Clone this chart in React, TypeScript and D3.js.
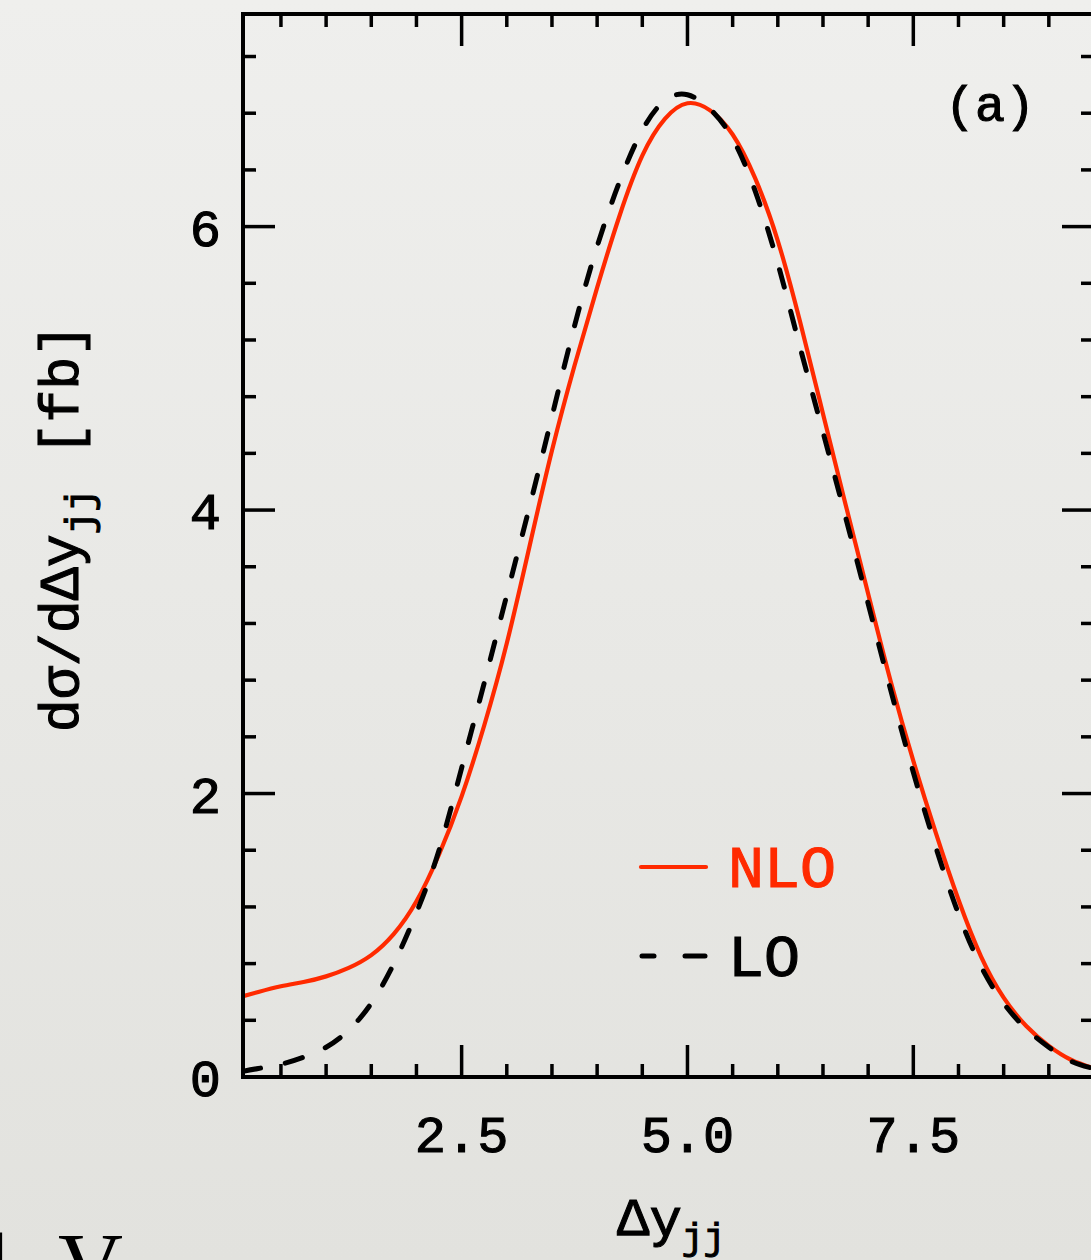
import React from "react";
import * as d3 from "d3";

const xValues = [0.08, 0.25, 0.5, 0.75, 1.0, 1.25, 1.5, 1.75, 2.0, 2.25, 2.5, 2.75, 3.0, 3.25, 3.5, 3.75, 4.0, 4.25, 4.5, 4.75, 5.0, 5.25, 5.5, 5.75, 6.0, 6.25, 6.5, 6.75, 7.0, 7.25, 7.5, 7.75, 8.0, 8.25, 8.5, 8.75, 9.0, 9.25, 9.5];
const nloValues = [0.57, 0.60, 0.64, 0.67, 0.71, 0.77, 0.86, 1.01, 1.24, 1.57, 1.98, 2.48, 3.06, 3.74, 4.42, 5.02, 5.57, 6.08, 6.50, 6.76, 6.87, 6.82, 6.65, 6.34, 5.90, 5.32, 4.68, 4.04, 3.41, 2.79, 2.23, 1.72, 1.25, 0.85, 0.56, 0.36, 0.22, 0.12, 0.06];
const loValues = [0.04, 0.06, 0.09, 0.14, 0.21, 0.33, 0.52, 0.80, 1.16, 1.60, 2.18, 2.78, 3.40, 4.02, 4.66, 5.30, 5.86, 6.32, 6.68, 6.89, 6.93, 6.83, 6.62, 6.25, 5.74, 5.14, 4.55, 3.95, 3.34, 2.73, 2.15, 1.62, 1.15, 0.78, 0.52, 0.34, 0.21, 0.11, 0.06];

const xMajorTicks = [2.5, 5.0, 7.5];
const xMinorTicks = [0.5, 1.0, 1.5, 2.0, 3.0, 3.5, 4.0, 4.5, 5.5, 6.0, 6.5, 7.0, 8.0, 8.5, 9.0];
const yMajorTicks = [0, 2, 4, 6];
const yMinorTicks = [0.4, 0.8, 1.2, 1.6, 2.4, 2.8, 3.2, 3.6, 4.4, 4.8, 5.2, 5.6, 6.4, 6.8, 7.2];
const xTickLabels = ["2.5", "5.0", "7.5"];
const yTickLabels = ["0", "2", "4", "6"];
const seriesNames = ["NLO", "LO"];

const W = 1091;
const H = 1260;
const FONT = "'Courier New', 'Liberation Mono', monospace";

export default function App() {
  const x = d3.scaleLinear().domain([0.08, 9.5]).range([243, 1094]);
  const y = d3.scaleLinear().domain([0, 7.5]).range([1077, 14]);
  const left = x.range()[0];
  const right = x.range()[1];
  const bottom = y.range()[0];
  const top = y.range()[1];

  const line = d3
    .line<number>()
    .x((_, i) => x(xValues[i]))
    .y((v) => y(v))
    .curve(d3.curveNatural);

  const majLen = 32;
  const minLen = 13;
  const tickW = 3.5;
  const thick = { stroke: "#000", strokeWidth: 1.1 } as const;

  return (
    <svg
      width={W}
      height={H}
      style={{ position: "fixed", left: 0, top: 0 }}
      xmlns="http://www.w3.org/2000/svg"
    >
      <defs>
        <linearGradient id="bg" x1="0" y1="0" x2="0" y2="1">
          <stop offset="0" stopColor="#efefed" />
          <stop offset="1" stopColor="#e2e2de" />
        </linearGradient>
        <clipPath id="plot">
          <rect x={left} y={top} width={right - left} height={bottom - top} />
        </clipPath>
      </defs>
      <rect x={0} y={0} width={W} height={H} fill="url(#bg)" />

      {/* curves */}
      <g clipPath="url(#plot)">
        <path d={line(nloValues) || ""} fill="none" stroke="#ff2a00" strokeWidth={4.2} />
        <path
          d={line(loValues) || ""}
          fill="none"
          stroke="#000"
          strokeWidth={5}
          strokeDasharray="18 25"
          strokeLinecap="round"
        />
      </g>

      {/* ticks */}
      <g stroke="#000" strokeWidth={tickW}>
        {xMajorTicks.map((t) => (
          <g key={"xM" + t}>
            <line x1={x(t)} x2={x(t)} y1={bottom} y2={bottom - majLen} />
            <line x1={x(t)} x2={x(t)} y1={top} y2={top + majLen} />
          </g>
        ))}
        {xMinorTicks.map((t) => (
          <g key={"xm" + t}>
            <line x1={x(t)} x2={x(t)} y1={bottom} y2={bottom - minLen} />
            <line x1={x(t)} x2={x(t)} y1={top} y2={top + minLen} />
          </g>
        ))}
        {yMajorTicks.map((t) => (
          <g key={"yM" + t}>
            <line x1={left} x2={left + majLen} y1={y(t)} y2={y(t)} />
            <line x1={right} x2={right - majLen} y1={y(t)} y2={y(t)} />
          </g>
        ))}
        {yMinorTicks.map((t) => (
          <g key={"ym" + t}>
            <line x1={left} x2={left + minLen} y1={y(t)} y2={y(t)} />
            <line x1={right} x2={right - minLen} y1={y(t)} y2={y(t)} />
          </g>
        ))}
      </g>

      {/* frame */}
      <rect
        x={left}
        y={top}
        width={right - left}
        height={bottom - top}
        fill="none"
        stroke="#000"
        strokeWidth={4}
      />

      {/* tick labels */}
      <g fontFamily={FONT} fontSize={52} fill="#000" {...thick}>
        {xMajorTicks.map((t, i) => (
          <text key={"xl" + t} x={x(t)} y={bottom + 75} textAnchor="middle">
            {xTickLabels[i]}
          </text>
        ))}
        {yMajorTicks.map((t, i) => (
          <text key={"yl" + t} x={left - 22} y={y(t) + 19} textAnchor="end">
            {yTickLabels[i]}
          </text>
        ))}
      </g>

      {/* x title */}
      <text x={617} y={1236} fontFamily={FONT} fontSize={54} fill="#000" {...thick}>
        Δy
        <tspan fontSize={36} dy={13}>jj</tspan>
      </text>

      {/* y title */}
      <text
        transform={`translate(78, 528) rotate(-90)`}
        textAnchor="middle"
        fontFamily={FONT}
        fontSize={55}
        fill="#000"
        {...thick}
      >
        dσ/dΔy
        <tspan fontSize={38} dy={14}>jj</tspan>
        <tspan dy={-14}>{"  [fb]"}</tspan>
      </text>

      {/* panel label */}
      <text x={945} y={121} fontFamily={FONT} fontSize={50} fill="#000" {...thick}>
        (a)
      </text>

      {/* legend */}
      <line x1={641} x2={706} y1={867} y2={867} stroke="#ff2a00" strokeWidth={4.2} strokeLinecap="round" />
      <text x={728} y={887} fontFamily={FONT} fontSize={60} fill="#ff2a00" stroke="#ff2a00" strokeWidth={1.1}>
        {seriesNames[0]}
      </text>
      <line x1={642} x2={654} y1={956} y2={956} stroke="#000" strokeWidth={5} strokeLinecap="round" />
      <line x1={685} x2={705} y1={956} y2={956} stroke="#000" strokeWidth={5} strokeLinecap="round" />
      <text x={728} y={976} fontFamily={FONT} fontSize={60} fill="#000" {...thick}>
        {seriesNames[1]}
      </text>

      {/* slide text cut off at bottom */}
      <text x={-14} y={1296} fontFamily="'Liberation Serif', serif" fontSize={90} fill="#000">
        l
      </text>
      <text x={58} y={1296} fontFamily="'Liberation Serif', serif" fontSize={90} fill="#000">
        V
      </text>
    </svg>
  );
}
